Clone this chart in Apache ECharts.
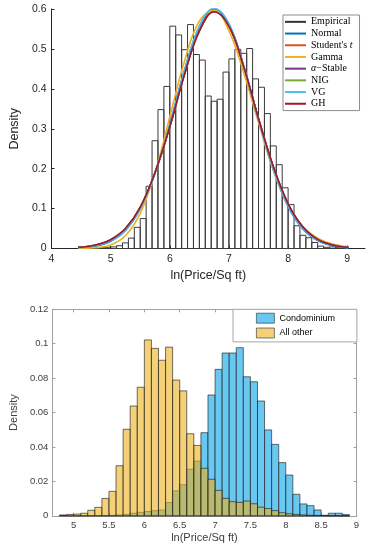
<!DOCTYPE html>
<html><head><meta charset="utf-8">
<script src="https://cdn.jsdelivr.net/npm/echarts@6/dist/echarts.min.js"></script>
<style>html,body{margin:0;padding:0;background:#fff}#c{width:370px;height:550px}</style>
</head><body><div id="c"></div>
<script>
// ---------- data: top chart ----------
const BIN_WIDTH = 0.1;
const topBinStarts = [4.8,4.9,5.0,5.1,5.2,5.3,5.4,5.5,5.6,5.7,5.8,5.9,6.0,6.1,6.2,6.3,6.4,6.5,6.6,6.7,6.8,6.9,7.0,7.1,7.2,7.3,7.4,7.5,7.6,7.7,7.8,7.9,8.0,8.1,8.2,8.3,8.4,8.5,8.6,8.7,8.8,8.9];
const empiricalDensity = [0.002,0.003,0.004,0.007,0.014,0.026,0.053,0.075,0.156,0.270,0.348,0.406,0.557,0.535,0.498,0.561,0.486,0.472,0.382,0.369,0.374,0.442,0.475,0.499,0.489,0.501,0.425,0.404,0.338,0.257,0.210,0.152,0.110,0.057,0.033,0.027,0.015,0.006,0.003,0.004,0.002,0.001];
const curveX   = [4.45,4.75,5.0,5.25,5.5,5.75,6.0,6.25,6.5,6.75,7.0,7.25,7.5,7.75,8.0,8.25,8.5,8.75,9.02];
const normalFit = [0.001,0.006,0.018,0.045,0.100,0.190,0.312,0.447,0.556,0.600,0.562,0.457,0.323,0.198,0.105,0.049,0.020,0.007,0.002];
const studentFit= [0.003,0.009,0.021,0.049,0.102,0.190,0.306,0.438,0.546,0.594,0.558,0.455,0.325,0.204,0.111,0.053,0.022,0.009,0.003];
const gammaFit  = [0.000,0.002,0.009,0.032,0.088,0.190,0.330,0.470,0.570,0.597,0.545,0.440,0.315,0.196,0.108,0.055,0.026,0.011,0.004];
const stableFit = [0.003,0.009,0.022,0.050,0.103,0.190,0.305,0.437,0.545,0.593,0.557,0.455,0.325,0.205,0.112,0.054,0.023,0.009,0.003];
const nigFit    = [0.003,0.009,0.022,0.050,0.103,0.190,0.305,0.437,0.545,0.593,0.557,0.455,0.325,0.205,0.112,0.054,0.023,0.009,0.003];
const vgFit     = [0.002,0.007,0.019,0.046,0.100,0.188,0.310,0.447,0.557,0.602,0.563,0.456,0.321,0.198,0.106,0.050,0.021,0.008,0.002];
const ghFit     = [0.003,0.009,0.022,0.050,0.103,0.190,0.305,0.437,0.545,0.593,0.557,0.455,0.325,0.205,0.112,0.054,0.023,0.009,0.003];
const topXTicks = [4,5,6,7,8,9];
const topYTicks = [0,0.1,0.2,0.3,0.4,0.5,0.6];

// ---------- data: bottom chart ----------
const botBinStarts = [4.8,4.9,5.0,5.1,5.2,5.3,5.4,5.5,5.6,5.7,5.8,5.9,6.0,6.1,6.2,6.3,6.4,6.5,6.6,6.7,6.8,6.9,7.0,7.1,7.2,7.3,7.4,7.5,7.6,7.7,7.8,7.9,8.0,8.1,8.2,8.3,8.4,8.5,8.6,8.7,8.8];
const condominium = [0.0004,0.0001,0.0001,0.0001,0.0001,0.0001,0.0002,0.0003,0.0005,0.0008,0.0015,0.0020,0.0025,0.0030,0.0034,0.0077,0.0145,0.0181,0.0271,0.0318,0.0483,0.0702,0.0851,0.0946,0.0946,0.0977,0.0808,0.0779,0.0667,0.0499,0.0415,0.0309,0.0237,0.0125,0.0069,0.0059,0.0034,0.0003,0.0015,0.0015,0.0007];
const allOther    = [0.0003,0.0008,0.0010,0.0015,0.0032,0.0049,0.0101,0.0142,0.0291,0.0503,0.0638,0.0747,0.1022,0.0973,0.0904,0.0980,0.0789,0.0726,0.0477,0.0409,0.0276,0.0212,0.0148,0.0101,0.0082,0.0078,0.0086,0.0070,0.0050,0.0042,0.0030,0.0018,0.0012,0.0008,0.0005,0.0003,0.0002,0.0001,0,0,0];
const botXTicks = [5,5.5,6,6.5,7,7.5,8,8.5,9];
const botYTicks = [0,0.02,0.04,0.06,0.08,0.1,0.12];

// ---------- helpers ----------
const SANS = 'Liberation Sans';
const SERIF = 'Liberation Serif';
function bins(starts, vals){ return starts.map((s,i)=>[s, +(s+BIN_WIDTH).toFixed(2), vals[i]]); }
function histRender(style){
  return function(params, api){
    const a = api.coord([api.value(0), api.value(2)]);
    const b = api.coord([api.value(1), 0]);
    return {type:'rect', shape:{x:a[0], y:a[1], width:b[0]-a[0], height:b[1]-a[1]}, style: style};
  };
}
function curve(vals){ return curveX.map((x,i)=>[x, vals[i]]); }

const fits = [
  ['Normal', normalFit, '#0072BD'],
  ["Student's t", studentFit, '#D95319'],
  ['Gamma', gammaFit, '#EDB120'],
  ['α−Stable', stableFit, '#7E2F8E'],
  ['NIG', nigFit, '#77AC30'],
  ['VG', vgFit, '#4DBEEE'],
  ['GH', ghFit, '#A2142F']
];

const condoColor = 'rgba(77,190,238,0.85)';
const otherColor = 'rgba(237,177,32,0.6)';
const edgeColor = 'rgba(30,30,30,0.7)';

const series = [];
series.push({
  type:'custom', name:'Empirical', xAxisIndex:0, yAxisIndex:0,
  renderItem: histRender({fill:'rgba(255,255,255,0)', stroke:'#3a3a3a', lineWidth:1}),
  encode:{x:[0,1], y:2}, data: bins(topBinStarts, empiricalDensity), z:2
});
fits.forEach(f=>{
  series.push({
    type:'line', name:f[0], xAxisIndex:0, yAxisIndex:0, data: curve(f[1]),
    smooth:0.4, symbol:'none', showSymbol:false,
    itemStyle:{color:f[2]}, lineStyle:{color:f[2], width:1.6}, z:3
  });
});
series.push({
  type:'custom', name:'Condominium', xAxisIndex:1, yAxisIndex:1,
  renderItem: histRender({fill:condoColor, stroke:edgeColor, lineWidth:0.9}),
  encode:{x:[0,1], y:2}, data: bins(botBinStarts, condominium), z:2
});
series.push({
  type:'custom', name:'All other', xAxisIndex:1, yAxisIndex:1,
  renderItem: histRender({fill:otherColor, stroke:edgeColor, lineWidth:0.9}),
  encode:{x:[0,1], y:2}, data: bins(botBinStarts, allOther), z:3
});

const topAxisColor = '#262626';
const botAxisColor = '#a0a0a0';
const labelColor = '#262626';

const option = {
  animation:false,
  backgroundColor:'#fff',
  grid:[
    {left:40, right:5, top:9, height:239.5},
    {left:40.7, right:13.5, top:309.3, height:206.5}
  ],
  xAxis:[
    {type:'value', gridIndex:0, min:4, max:9.3,
     axisLine:{show:true, onZero:false, lineStyle:{color:topAxisColor, width:1}},
     axisTick:{show:true, inside:true, length:3, customValues:topXTicks, lineStyle:{color:topAxisColor}},
     axisLabel:{customValues:topXTicks, color:labelColor, fontSize:10.5, margin:5, fontFamily:SANS},
     splitLine:{show:false},
     name:'ln(Price/Sq ft)', nameLocation:'middle', nameGap:21,
     nameTextStyle:{fontSize:12.5, color:labelColor, fontFamily:SANS}},
    {type:'value', gridIndex:1, min:4.7, max:9,
     axisLine:{show:true, onZero:false, lineStyle:{color:botAxisColor, width:1}},
     axisTick:{show:true, inside:true, length:3, customValues:botXTicks, lineStyle:{color:botAxisColor}},
     axisLabel:{customValues:botXTicks, color:'#404040', fontSize:9.5, margin:5, fontFamily:SANS},
     splitLine:{show:false},
     name:'ln(Price/Sq ft)', nameLocation:'middle', nameGap:17,
     nameTextStyle:{fontSize:11, color:'#404040', fontFamily:SANS}},
    {type:'value', gridIndex:1, min:4.7, max:9, position:'top',
     axisLine:{show:true, onZero:false, lineStyle:{color:botAxisColor, width:1}},
     axisTick:{show:true, inside:true, length:3, customValues:botXTicks, lineStyle:{color:botAxisColor}},
     axisLabel:{show:false}, splitLine:{show:false}}
  ],
  yAxis:[
    {type:'value', gridIndex:0, min:0, max:0.6, interval:0.1,
     axisLine:{show:true, lineStyle:{color:topAxisColor, width:1}},
     axisTick:{show:true, inside:true, length:3, lineStyle:{color:topAxisColor}},
     axisLabel:{customValues:topYTicks, color:labelColor, fontSize:10.5, margin:5, fontFamily:SANS},
     splitLine:{show:false},
     name:'Density', nameLocation:'middle', nameGap:27,
     nameTextStyle:{fontSize:12.5, color:labelColor, fontFamily:SANS}},
    {type:'value', gridIndex:1, min:0, max:0.12, interval:0.02,
     axisLine:{show:true, lineStyle:{color:botAxisColor, width:1}},
     axisTick:{show:true, inside:true, length:3, lineStyle:{color:botAxisColor}},
     axisLabel:{customValues:botYTicks, color:'#404040', fontSize:9.5, margin:4, fontFamily:SANS},
     splitLine:{show:false},
     name:'Density', nameLocation:'middle', nameGap:28,
     nameTextStyle:{fontSize:11, color:'#404040', fontFamily:SANS}},
    {type:'value', gridIndex:1, min:0, max:0.12, interval:0.02, position:'right',
     axisLine:{show:true, lineStyle:{color:botAxisColor, width:1}},
     axisTick:{show:true, inside:true, length:3, lineStyle:{color:botAxisColor}},
     axisLabel:{show:false}, splitLine:{show:false}}
  ],
  legend:[
    {orient:'vertical', left:283, top:15, selectedMode:false,
     itemWidth:21, itemHeight:2, itemGap:0, padding:[1,7,1,2],
     backgroundColor:'#fff', borderColor:'#8c8c8c', borderWidth:1, borderRadius:0,
     textStyle:{fontFamily:SERIF, fontSize:10, color:'#000', lineHeight:11.7,
       rich:{i:{fontFamily:SERIF, fontSize:10, fontStyle:'italic', color:'#000', lineHeight:11.7}}},
     formatter:function(n){
       if(n==="Student's t") return "Student's {i|t}";
       if(n==='α−Stable') return '{i|α}−Stable';
       return n;
     },
     data:[{name:'Empirical', icon:'rect', itemStyle:{color:'#333', borderWidth:0}}].concat(
       fits.map(f=>({name:f[0], icon:'rect', itemStyle:{color:f[2], borderWidth:0}})))
    },
    {orient:'vertical', left:233, top:309.3, selectedMode:false,
     itemWidth:18, itemHeight:10, itemGap:4, padding:[3.5,22,3.5,23],
     backgroundColor:'#fff', borderColor:'#a6a6a6', borderWidth:1, borderRadius:0,
     textStyle:{fontFamily:SANS, fontSize:9, color:'#000', lineHeight:10},
     data:[
       {name:'Condominium', icon:'rect', itemStyle:{color:condoColor, borderColor:edgeColor, borderWidth:0.8}},
       {name:'All other', icon:'rect', itemStyle:{color:otherColor, borderColor:edgeColor, borderWidth:0.8}}
     ]}
  ],
  series: series
};
const chart = echarts.init(document.getElementById('c'), null, {renderer:'canvas'});
chart.setOption(option);
</script></body></html>
